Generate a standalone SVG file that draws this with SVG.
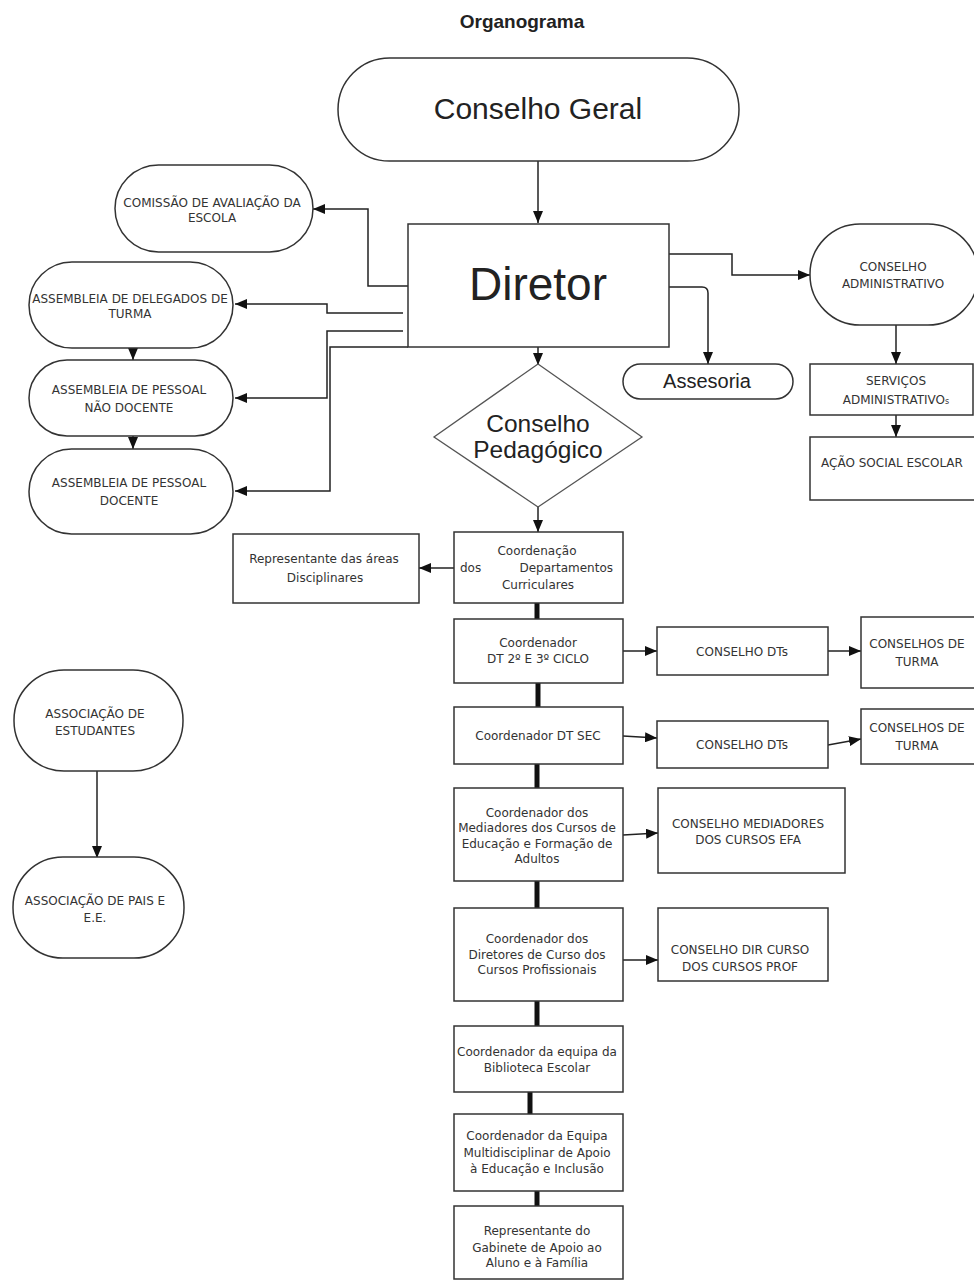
<svg xmlns="http://www.w3.org/2000/svg" width="974" height="1282" viewBox="0 0 974 1282">
<style>
.bg{fill:#ffffff}
.box{fill:#ffffff;stroke:#333333;stroke-width:1.5}
.dia{fill:#ffffff;stroke:#555555;stroke-width:1.3}
.ln{fill:none;stroke:#222222;stroke-width:1.5}
.thick{fill:none;stroke:#111111;stroke-width:5}
.t{font-family:"DejaVu Sans",Verdana,sans-serif;font-size:12px;fill:#333333;text-anchor:middle}
.ts{text-anchor:start}
.te{text-anchor:end}
.a{font-family:"Liberation Sans",Arial,sans-serif;fill:#222222;text-anchor:middle}
</style>
<defs>
<marker id="arr" markerUnits="userSpaceOnUse" markerWidth="12" markerHeight="10" refX="12" refY="5" orient="auto">
<path d="M0,0 L12,5 L0,10 z" fill="#111111"/>
</marker>
</defs>
<rect class="bg" x="0" y="0" width="974" height="1282"/>
<text class="a" x="522" y="28" font-size="19" font-weight="bold">Organograma</text>

<g id="connectors">
<path class="ln" d="M538,161 V223" marker-end="url(#arr)"/>
<path class="ln" d="M538,347 V365" marker-end="url(#arr)"/>
<path class="ln" d="M538,507 V532" marker-end="url(#arr)"/>
<path class="ln" d="M454,568 H419" marker-end="url(#arr)"/>
<path class="thick" d="M537,603 V619"/>
<path class="thick" d="M538,683 V707"/>
<path class="thick" d="M537,764 V789"/>
<path class="thick" d="M537,881 V908"/>
<path class="thick" d="M537,1001 V1026"/>
<path class="thick" d="M530,1092 V1114"/>
<path class="thick" d="M537,1191 V1206"/>
<path class="ln" d="M623,651 H657" marker-end="url(#arr)"/>
<path class="ln" d="M828,651 H861" marker-end="url(#arr)"/>
<path class="ln" d="M623,736 L657,738" marker-end="url(#arr)"/>
<path class="ln" d="M828,745 L861,739" marker-end="url(#arr)"/>
<path class="ln" d="M623,835 L658,833" marker-end="url(#arr)"/>
<path class="ln" d="M623,960 H658" marker-end="url(#arr)"/>
<path class="ln" d="M669,254 H732 V275 H810" marker-end="url(#arr)"/>
<path class="ln" d="M669,287 H702 Q708,287 708,293 V364" marker-end="url(#arr)"/>
<path class="ln" d="M896,325 V364" marker-end="url(#arr)"/>
<path class="ln" d="M896,415 V437" marker-end="url(#arr)"/>
<path class="ln" d="M408,286 H368 V209 H313" marker-end="url(#arr)"/>
<path class="ln" d="M403,313 H327 V304 H235" marker-end="url(#arr)"/>
<path class="ln" d="M403,331 H327 V398 H235" marker-end="url(#arr)"/>
<path class="ln" d="M408,347 H330 V491 H235" marker-end="url(#arr)"/>
<path class="ln" d="M133,322 V360" marker-end="url(#arr)"/>
<path class="ln" d="M133,360 V371"/>
<path class="ln" d="M133,408 V449" marker-end="url(#arr)"/>
<path class="ln" d="M133,449 V459"/>
<path class="ln" d="M97,771 V858" marker-end="url(#arr)"/>
</g>

<g id="conselho-geral">
<rect class="box" x="338" y="58" width="401" height="103" rx="51.5"/>
<text class="a" x="538" y="119" font-size="30">Conselho Geral</text>
</g>

<g id="diretor">
<rect class="box" x="408" y="224" width="261" height="123" stroke="#222222"/>
<text class="a" x="538" y="300" font-size="46">Diretor</text>
</g>

<g id="conselho-pedagogico">
<polygon class="dia" points="538,364 642,437 538,507 434,437"/>
<text class="a" x="538" y="432" font-size="24.5">Conselho</text>
<text class="a" x="538" y="458" font-size="24.5">Pedagógico</text>
</g>

<g id="assesoria">
<rect class="box" x="623" y="364" width="170" height="35" rx="17.5"/>
<text class="a" x="707" y="388" font-size="20">Assesoria</text>
</g>

<g id="comissao">
<rect class="box" x="115" y="165" width="198" height="87" rx="43.5"/>
<text class="t" x="212" y="207" font-size="11.5">COMISSÃO DE AVALIAÇÃO DA</text>
<text class="t" x="212" y="222" font-size="11.5">ESCOLA</text>
</g>

<g id="assembleia-delegados">
<rect class="box" x="29" y="262" width="204" height="86" rx="43"/>
<text class="t" x="130" y="303" font-size="11.4">ASSEMBLEIA DE DELEGADOS DE</text>
<text class="t" x="130" y="318" font-size="11.4">TURMA</text>
</g>

<g id="assembleia-nao-docente">
<rect class="box" x="29" y="360" width="204" height="76" rx="38"/>
<text class="t" x="129" y="394" font-size="12.8">ASSEMBLEIA DE PESSOAL</text>
<text class="t" x="129" y="412" font-size="12.8">NÃO DOCENTE</text>
</g>

<g id="assembleia-docente">
<rect class="box" x="29" y="449" width="204" height="85" rx="42.5"/>
<text class="t" x="129" y="487" font-size="12.8">ASSEMBLEIA DE PESSOAL</text>
<text class="t" x="129" y="505" font-size="12.8">DOCENTE</text>
</g>

<g id="conselho-administrativo">
<rect class="box" x="810" y="224" width="168" height="101" rx="50"/>
<text class="t" x="893" y="271" font-size="12.6">CONSELHO</text>
<text class="t" x="893" y="288" font-size="12.6">ADMINISTRATIVO</text>
</g>

<g id="servicos-administrativos">
<rect class="box" x="810" y="364" width="163" height="51"/>
<text class="t" x="896" y="385" font-size="12.6">SERVIÇOS</text>
<text class="t" x="896" y="404" font-size="12.6">ADMINISTRATIVO<tspan font-size="8">s</tspan></text>
</g>

<g id="acao-social">
<rect class="box" x="810" y="437" width="172" height="63"/>
<text class="t" x="892" y="467" font-size="13.4">AÇÃO SOCIAL ESCOLAR</text>
</g>

<g id="coordenacao-departamentos">
<rect class="box" x="454" y="532" width="169" height="71"/>
<text class="t" x="537" y="555">Coordenação</text>
<text class="t ts" x="460" y="572">dos</text>
<text class="t te" x="613" y="572">Departamentos</text>
<text class="t" x="538" y="589">Curriculares</text>
</g>

<g id="representante-areas">
<rect class="box" x="233" y="534" width="186" height="69"/>
<text class="t" x="324" y="563" font-size="13">Representante das áreas</text>
<text class="t" x="325" y="582" font-size="13">Disciplinares</text>
</g>

<g id="coordenador-dt-2-3">
<rect class="box" x="454" y="619" width="169" height="64"/>
<text class="t" x="538" y="647">Coordenador</text>
<text class="t" x="538" y="663">DT 2º E 3º CICLO</text>
</g>

<g id="conselho-dts-1">
<rect class="box" x="657" y="627" width="171" height="48"/>
<text class="t" x="742" y="656" font-size="12.8">CONSELHO DTs</text>
</g>

<g id="conselhos-turma-1">
<rect class="box" x="861" y="617" width="125" height="71"/>
<text class="t" x="917" y="648" font-size="12.6">CONSELHOS DE</text>
<text class="t" x="917" y="666" font-size="12.6">TURMA</text>
</g>

<g id="coordenador-dt-sec">
<rect class="box" x="454" y="707" width="169" height="57"/>
<text class="t" x="538" y="740">Coordenador DT SEC</text>
</g>

<g id="conselho-dts-2">
<rect class="box" x="657" y="721" width="171" height="47"/>
<text class="t" x="742" y="749" font-size="12.8">CONSELHO DTs</text>
</g>

<g id="conselhos-turma-2">
<rect class="box" x="861" y="709" width="125" height="55"/>
<text class="t" x="917" y="732" font-size="12.6">CONSELHOS DE</text>
<text class="t" x="917" y="750" font-size="12.6">TURMA</text>
</g>

<g id="coordenador-mediadores">
<rect class="box" x="454" y="788" width="169" height="93"/>
<text class="t" x="537" y="817" font-size="11.8">Coordenador dos</text>
<text class="t" x="537" y="832" font-size="11.8">Mediadores dos Cursos de</text>
<text class="t" x="537" y="848" font-size="11.8">Educação e Formação de</text>
<text class="t" x="537" y="863" font-size="11.8">Adultos</text>
</g>

<g id="conselho-mediadores">
<rect class="box" x="658" y="788" width="187" height="85"/>
<text class="t" x="748" y="828" font-size="12.7">CONSELHO MEDIADORES</text>
<text class="t" x="748" y="844" font-size="12.7">DOS CURSOS EFA</text>
</g>

<g id="coordenador-diretores-curso">
<rect class="box" x="454" y="908" width="169" height="93"/>
<text class="t" x="537" y="943" font-size="11.8">Coordenador dos</text>
<text class="t" x="537" y="959" font-size="11.8">Diretores de Curso dos</text>
<text class="t" x="537" y="974" font-size="11.8">Cursos Profissionais</text>
</g>

<g id="conselho-dir-curso">
<rect class="box" x="658" y="908" width="170" height="73"/>
<text class="t" x="740" y="954" font-size="13">CONSELHO DIR CURSO</text>
<text class="t" x="740" y="971" font-size="13">DOS CURSOS PROF</text>
</g>

<g id="coordenador-biblioteca">
<rect class="box" x="454" y="1026" width="169" height="66"/>
<text class="t" x="537" y="1056">Coordenador da equipa da</text>
<text class="t" x="537" y="1072">Biblioteca Escolar</text>
</g>

<g id="coordenador-equipa-multidisciplinar">
<rect class="box" x="454" y="1114" width="169" height="77"/>
<text class="t" x="537" y="1140" font-size="11.8">Coordenador da Equipa</text>
<text class="t" x="537" y="1157" font-size="11.8">Multidisciplinar de Apoio</text>
<text class="t" x="537" y="1173" font-size="11.8">à Educação e Inclusão</text>
</g>

<g id="representante-gabinete">
<rect class="box" x="454" y="1206" width="169" height="73"/>
<text class="t" x="537" y="1235" font-size="11.8">Representante do</text>
<text class="t" x="537" y="1252" font-size="11.8">Gabinete de Apoio ao</text>
<text class="t" x="537" y="1267" font-size="11.8">Aluno e à Família</text>
</g>

<g id="associacao-estudantes">
<rect class="box" x="14" y="670" width="169" height="101" rx="50"/>
<text class="t" x="95" y="718" font-size="12.8">ASSOCIAÇÃO DE</text>
<text class="t" x="95" y="735" font-size="12.8">ESTUDANTES</text>
</g>

<g id="associacao-pais">
<rect class="box" x="13" y="857" width="171" height="101" rx="50"/>
<text class="t" x="95" y="905" font-size="13">ASSOCIAÇÃO DE PAIS E</text>
<text class="t" x="95" y="922" font-size="13">E.E.</text>
</g>
</svg>
